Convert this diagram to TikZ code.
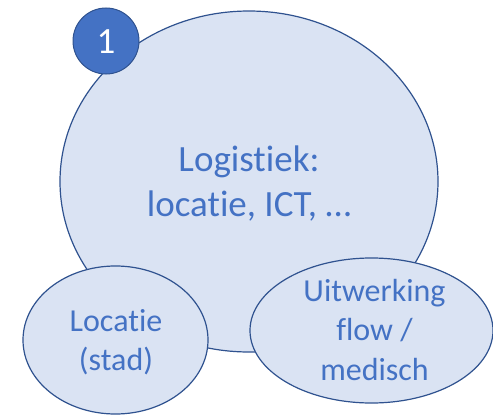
\documentclass[tikz,border=0pt]{standalone}
\usepackage{fontspec}
\setmainfont[Ligatures=NoCommon]{Carlito}
\usetikzlibrary{shapes.geometric}
\definecolor{fillblue}{HTML}{DAE3F3}
\definecolor{edgeblue}{HTML}{2F528F}
\definecolor{textblue}{HTML}{4472C4}
\tikzset{
  bubble/.style={ellipse, draw=edgeblue, fill=fillblue, line width=1.2pt, inner sep=0pt, outer sep=0pt},
  bigtext/.style={anchor=base, text=textblue, inner sep=0pt, font=\fontsize{37}{45}\selectfont},
  smalltext/.style={anchor=base, text=textblue, inner sep=0pt, font=\fontsize{32}{39}\selectfont},
  badge/.style={circle, draw=edgeblue, fill=textblue, line width=1pt, inner sep=0pt, minimum size=66pt}
}
\begin{document}
\begin{tikzpicture}[x=1pt,y=-1pt]
\useasboundingbox (0,0) rectangle (493,415);
\node[bubble, minimum width=378pt, minimum height=341pt] (big) at (249,181.5) {};
\node[badge] (badge) at (106,41) {};
\node[anchor=base, text=white, inner sep=0pt, font=\fontsize{37}{45}\selectfont] (one) at (106,53.5) {1};
\node[bigtext] (l1) at (249,171.7) {Logistiek:};
\node[bigtext] (l2) at (249,216.7) {locatie, ICT, …};
\node[bubble, minimum width=185pt, minimum height=148pt] (loc) at (115.5,340) {};
\node[smalltext] (loc1) at (116,331.7) {Locatie};
\node[smalltext] (loc2) at (116,370.5) {(stad)};
\node[bubble, minimum width=243pt, minimum height=145pt] (uit) at (371.5,330.5) {};
\node[smalltext] (u1) at (374.5,301.7) {Uitwerking};
\node[smalltext] (u2) at (374.5,340.7) {flow /};
\node[smalltext] (u3) at (374.5,380) {medisch};
\end{tikzpicture}
\end{document}
